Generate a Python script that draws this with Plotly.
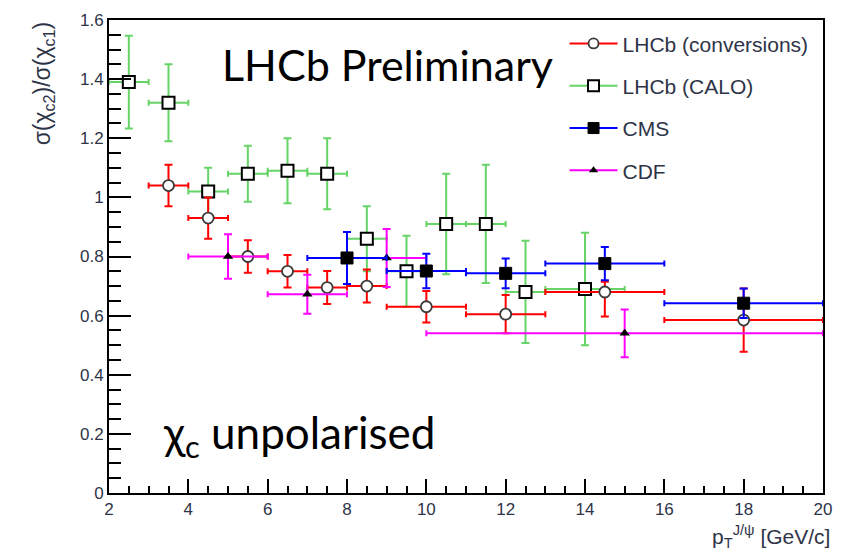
import plotly.graph_objects as go

# ---- data ----
conv_x = [3.5, 4.5, 5.5, 6.5, 7.5, 8.5, 10, 12, 14.5, 18]
conv_xerr = [0.5, 0.5, 0.5, 0.5, 0.5, 0.5, 1, 1, 1.5, 2]
conv_y = [1.04, 0.93, 0.80, 0.75, 0.695, 0.70, 0.63, 0.605, 0.68, 0.585]
conv_yerr_up = [0.07, 0.07, 0.055, 0.055, 0.056, 0.056, 0.053, 0.065, 0.035, 0.107]
conv_yerr_dn = [0.07, 0.07, 0.055, 0.055, 0.056, 0.056, 0.053, 0.065, 0.083, 0.107]

calo_x = [2.5, 3.5, 4.5, 5.5, 6.5, 7.5, 8.5, 9.5, 10.5, 11.5, 12.5, 14]
calo_xerr = [0.5, 0.5, 0.5, 0.5, 0.5, 0.5, 0.5, 0.5, 0.5, 0.5, 0.5, 1]
calo_y = [1.39, 1.32, 1.02, 1.08, 1.09, 1.08, 0.86, 0.75, 0.91, 0.91, 0.68, 0.69]
calo_yerr = [0.157, 0.13, 0.08, 0.095, 0.11, 0.12, 0.11, 0.12, 0.17, 0.2, 0.173, 0.19]

cms_x = [8, 10, 12, 14.5, 18]
cms_xerr = [1, 1, 1, 1.5, 2]
cms_y = [0.795, 0.751, 0.743, 0.776, 0.642]
cms_yerr = [0.088, 0.058, 0.05, 0.056, 0.05]

cdf_x = [5, 7, 9, 15]
cdf_xerr = [1, 1, 1, 5]
cdf_y = [0.80, 0.672, 0.795, 0.54]
cdf_yerr = [0.075, 0.066, 0.098, 0.081]

names = ["LHCb (conversions)", "LHCb (CALO)", "CMS", "CDF"]

RED = "#ff0000"
GREEN = "#66d466"
BLUE = "#0000ff"
MAG = "#ff00ff"

fig = go.Figure()


def add_series(x, xe, y, ye_up, ye_dn, color, marker):
    fig.add_trace(go.Scatter(
        x=x, y=y, mode="markers", showlegend=False,
        error_x=dict(type="data", array=xe, color=color, thickness=2, width=3),
        error_y=dict(type="data", array=ye_up, arrayminus=ye_dn, color=color,
                     thickness=2, width=4),
        marker=marker,
    ))


circle_m = dict(symbol="circle", size=11, color="white",
                line=dict(color="#3a3a3a", width=1.8))
osq_m = dict(symbol="square", size=12, color="white",
             line=dict(color="black", width=2))
fsq_m = dict(symbol="square", size=12, color="black",
             line=dict(color="black", width=1))
tri_m = dict(symbol="triangle-up", size=9, color="black",
             line=dict(color="black", width=0))

add_series(calo_x, calo_xerr, calo_y, calo_yerr, calo_yerr, GREEN, osq_m)
add_series(conv_x, conv_xerr, conv_y, conv_yerr_up, conv_yerr_dn, RED, circle_m)
add_series(cdf_x, cdf_xerr, cdf_y, cdf_yerr, cdf_yerr, MAG, tri_m)
add_series(cms_x, cms_xerr, cms_y, cms_yerr, cms_yerr, BLUE, fsq_m)

# legend-only entries
for nm, col, mk in zip(names, [RED, GREEN, BLUE, MAG], [circle_m, osq_m, fsq_m, tri_m]):
    m = dict(mk)
    m["size"] = max(mk["size"] - 1, 8)
    fig.add_trace(go.Scatter(x=[None], y=[None], mode="lines+markers", name=nm,
                             legendgroup=nm, line=dict(color=col, width=2),
                             marker=m))

TXT = "#2e3448"
SANS = "Liberation Sans, Arial, sans-serif"

fig.update_layout(
    width=843, height=552,
    margin=dict(l=109, r=11, t=16, b=59),
    plot_bgcolor="white", paper_bgcolor="white",
    font=dict(family=SANS, color=TXT, size=17),
    legend=dict(x=0.638, y=0.993, xanchor="left", yanchor="top",
                bgcolor="rgba(0,0,0,0)", tracegroupgap=12, itemwidth=48,
                font=dict(size=21, color=TXT, family=SANS)),
    xaxis=dict(range=[2, 20], showgrid=False, zeroline=False,
               showline=True, linecolor="black", linewidth=2, mirror=True,
               ticks="inside", ticklen=14, tickwidth=2, tickcolor="black",
               tick0=2, dtick=2,
               minor=dict(ticks="inside", ticklen=7, tickwidth=1.5,
                          tickcolor="black", dtick=0.5, showgrid=False),
               tickfont=dict(size=17, color=TXT)),
    yaxis=dict(range=[0, 1.6], showgrid=False, zeroline=False,
               showline=True, linecolor="black", linewidth=2, mirror=True,
               ticks="inside", ticklen=22, tickwidth=2, tickcolor="black",
               tick0=0, dtick=0.2,
               minor=dict(ticks="inside", ticklen=12, tickwidth=2,
                          tickcolor="black", dtick=0.05, showgrid=False),
               tickfont=dict(size=17, color=TXT)),
)

fig.add_annotation(
    text="σ(χ<sub>c2</sub>)/σ(χ<sub>c1</sub>)", textangle=-90,
    xref="paper", yref="paper", x=-0.092, y=1.002,
    xanchor="center", yanchor="top", showarrow=False,
    font=dict(size=23, color=TXT))

fig.add_annotation(
    text="p<sub>T</sub><sup>J/ψ</sup> [GeV/c]",
    xref="paper", yref="paper", x=1.013, y=-0.092,
    xanchor="right", yanchor="middle", showarrow=False,
    font=dict(size=21, color=TXT))

fig.add_annotation(
    text="LHCb Preliminary",
    xref="paper", yref="paper", x=0.155, y=0.905,
    xanchor="left", yanchor="middle", showarrow=False,
    font=dict(size=43, color="black", family="Lato, sans-serif"))

fig.add_annotation(
    text="χ<sub>c</sub> unpolarised",
    xref="paper", yref="paper", x=0.073, y=0.122,
    xanchor="left", yanchor="middle", showarrow=False,
    font=dict(size=44, color="black", family="Lato, sans-serif"))

fig.write_html("out.html")
